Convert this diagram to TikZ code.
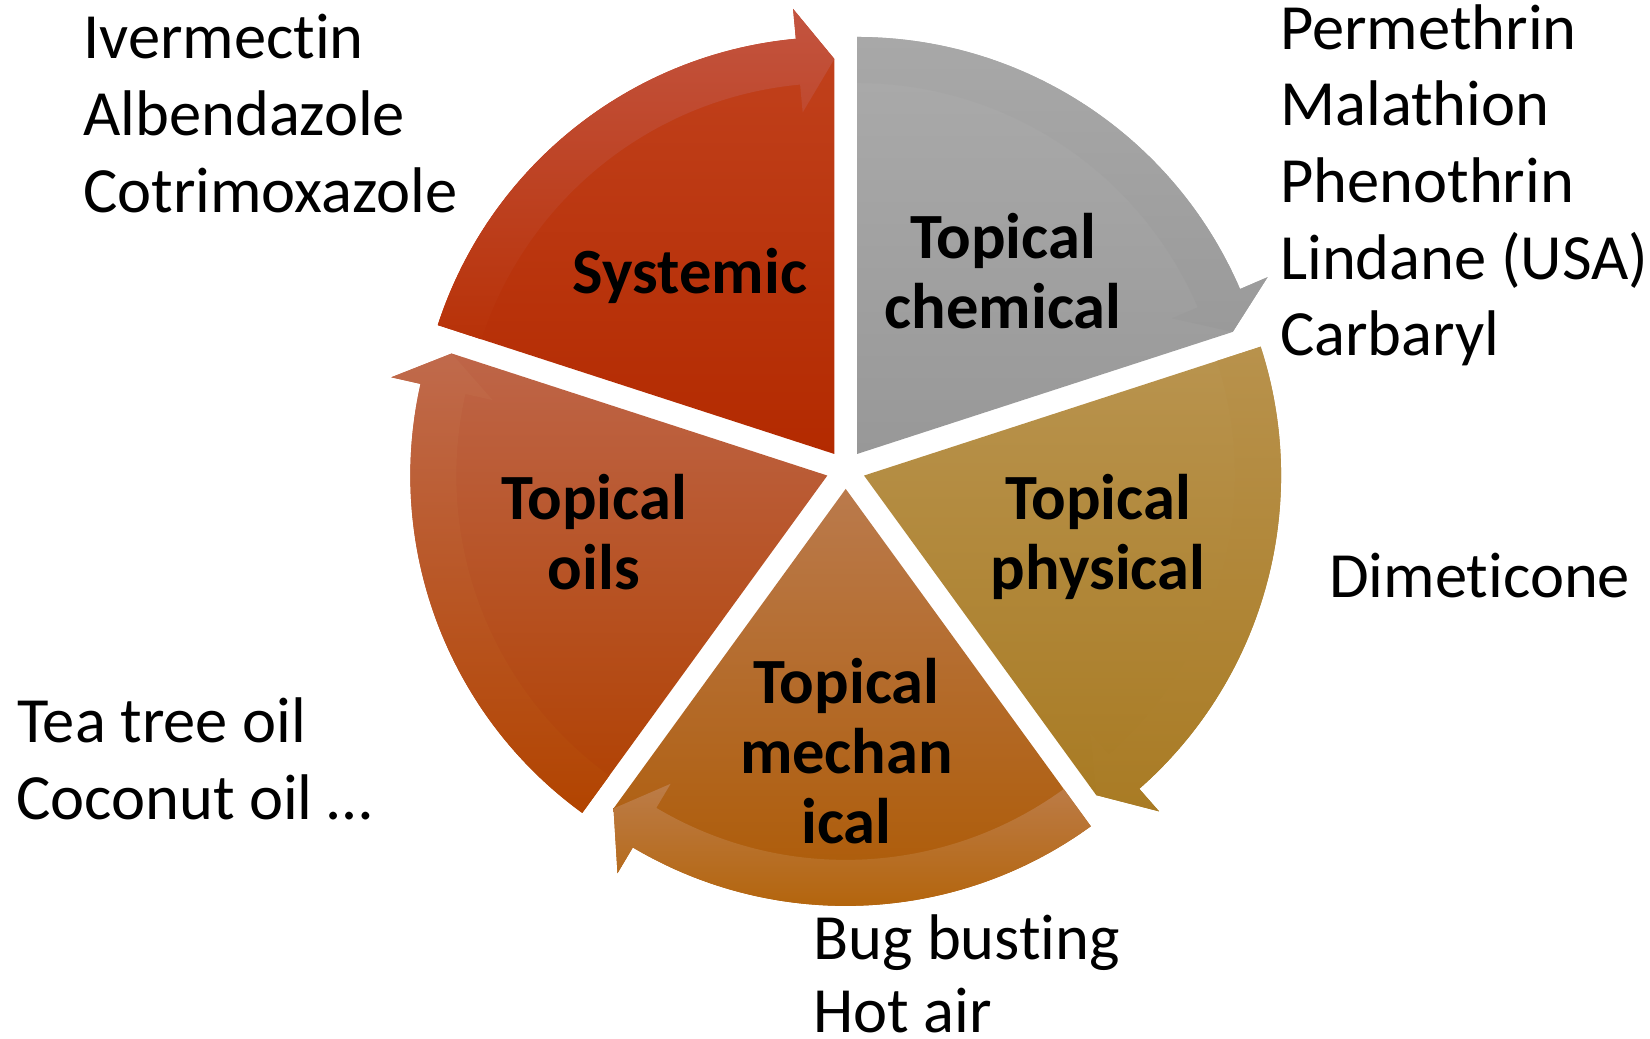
\documentclass[tikz,border=0pt]{standalone}
\usepackage{fontspec}
\setmainfont{Carlito}[Ligatures=NoCommon]
\usetikzlibrary{calc}
\definecolor{sysTop}{HTML}{C2431F}
\definecolor{sysBot}{HTML}{B32A00}
\definecolor{sysBandTop}{HTML}{C35440}
\definecolor{sysBandBot}{HTML}{B83208}
\definecolor{chemTop}{HTML}{ABABAB}
\definecolor{chemBot}{HTML}{989898}
\definecolor{chemBandTop}{HTML}{A8A8A8}
\definecolor{chemBandBot}{HTML}{9A9A9A}
\definecolor{physTop}{HTML}{B9944F}
\definecolor{physBot}{HTML}{A87A22}
\definecolor{physBandTop}{HTML}{B8924C}
\definecolor{physBandBot}{HTML}{A97B24}
\definecolor{mechTop}{HTML}{BA7A4C}
\definecolor{mechMid}{HTML}{B46400}
\definecolor{mechBot}{HTML}{AC5800}
\definecolor{mechBandTop}{HTML}{BC7C48}
\definecolor{mechBandBot}{HTML}{B26000}
\definecolor{oilTop}{HTML}{BE6548}
\definecolor{oilBot}{HTML}{B04000}
\definecolor{oilBandTop}{HTML}{C06A4C}
\definecolor{oilBandBot}{HTML}{B24400}
% #1 name, #2 tip angle, #3 wedge shading, #4 band shading
\newcommand\drawsegment[4]{%
  \begin{scope}[shift={($(C)+(#2+36:19.3pt)$)}]
    \coordinate (#1) at (0pt,0pt);
    \shade[#3] (0pt,0pt) -- (#2+72:417pt)
      arc[start angle=#2+72, end angle=#2+5.3, radius=417pt]
      -- (#2+5.3:447pt) -- (#2:395pt) -- cycle;
    \shade[#4] (#2+72:417pt)
      arc[start angle=#2+72, end angle=#2+5.3, radius=417pt]
      -- (#2+5.3:447pt) -- (#2:395pt) -- (#2+5.3:343pt) -- (#2+5.3:371pt)
      arc[start angle=#2+5.3, end angle=#2+72, radius=371pt] -- cycle;
  \end{scope}}
\tikzset{
  listtext/.style={anchor=base west, inner sep=0pt, font=\fontsize{64.5}{76}\selectfont},
  segtext/.style={anchor=base, inner sep=0pt, font=\bfseries\fontsize{64.5}{70}\selectfont}
}
\begin{document}
\begin{tikzpicture}[x=1pt,y=1pt]
  \useasboundingbox (0,0) rectangle (1650,1039);
  \coordinate (C) at (845.7,569.4);
  \drawsegment{sys}{90}{top color=sysTop,bottom color=sysBot}{top color=sysBandTop,bottom color=sysBandBot}
  \drawsegment{chem}{18}{top color=chemTop,bottom color=chemBot}{top color=chemBandTop,bottom color=chemBandBot}
  \drawsegment{phys}{-54}{top color=physTop,bottom color=physBot}{top color=physBandTop,bottom color=physBandBot}
  \drawsegment{mech}{-126}{top color=mechTop,middle color=mechMid,bottom color=mechBot}{top color=mechBandTop,bottom color=mechBandBot}
  \drawsegment{oil}{162}{top color=oilTop,bottom color=oilBot}{top color=oilBandTop,bottom color=oilBandBot}

  % segment labels
  \node[segtext] (lsys) at (690,745.7) {Systemic};
  \node[segtext] (lchem1) at (1003,780.7) {Topical};
  \node[segtext] (lchem2) at (1003,710.7) {chemical};
  \node[segtext] (lphys1) at (1098,519) {Topical};
  \node[segtext] (lphys2) at (1098,449.7) {physical};
  \node[segtext] (loil1) at (594,519) {Topical};
  \node[segtext] (loil2) at (594,449.7) {oils};
  \node[segtext] (lmech1) at (846.5,335.7) {Topical};
  \node[segtext] (lmech2) at (846.5,265.7) {mechan};
  \node[segtext] (lmech3) at (846.5,195.7) {ical};

  % side lists
  \node[listtext] (iver) at (83,980.2) {Ivermectin};
  \node[listtext] (albe) at (83,903.5) {Albendazole};
  \node[listtext] (cotr) at (83,826.8) {Cotrimoxazole};

  \node[listtext] (perm) at (1280,989.7) {Permethrin};
  \node[listtext] (mala) at (1280,913) {Malathion};
  \node[listtext] (phen) at (1280,836.3) {Phenothrin};
  \node[listtext] (lind) at (1280,759.7) {Lindane (USA)};
  \node[listtext] (carb) at (1280,683) {Carbaryl};

  \node[listtext] (dime) at (1329,441.3) {Dimeticone};

  \node[listtext] (teat) at (17,296.3) {Tea tree oil};
  \node[listtext] (coco) at (16,219.7) {Coconut oil …};

  \node[listtext] (bugb) at (813,79.7) {Bug busting};
  \node[listtext] (hota) at (813,6) {Hot air};
\end{tikzpicture}
\end{document}
